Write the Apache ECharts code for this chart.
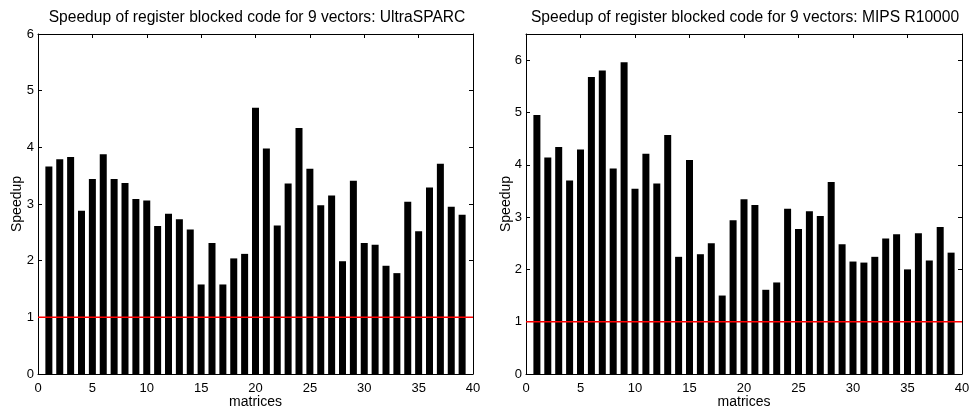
<!DOCTYPE html>
<html><head><meta charset="utf-8">
<script src="https://cdn.jsdelivr.net/npm/echarts@6/dist/echarts.min.js"></script>
<style>html,body{margin:0;padding:0;background:#fff}#c{width:971px;height:409px}</style>
</head><body><div id="c"></div>
<script>
const matrices = [1,2,3,4,5,6,7,8,9,10,11,12,13,14,15,16,17,18,19,20,21,22,23,24,25,26,27,28,29,30,31,32,33,34,35,36,37,38,39];
const speedupUltraSPARC = [3.66,3.79,3.83,2.88,3.44,3.88,3.44,3.37,3.09,3.06,2.61,2.83,2.73,2.55,1.58,2.31,1.58,2.04,2.12,4.70,3.98,2.62,3.36,4.34,3.62,2.98,3.15,1.99,3.41,2.31,2.28,1.91,1.78,3.04,2.52,3.29,3.71,2.95,2.81];
const speedupMIPS = [4.95,4.14,4.34,3.70,4.29,5.68,5.80,3.93,5.96,3.54,4.21,3.64,4.57,2.24,4.09,2.29,2.50,1.50,2.94,3.34,3.23,1.61,1.75,3.16,2.77,3.11,3.02,3.67,2.48,2.15,2.13,2.24,2.59,2.67,2.00,2.69,2.17,2.81,2.32];
const titles = ['Speedup of register blocked code for 9 vectors: UltraSPARC','Speedup of register blocked code for 9 vectors: MIPS R10000'];
const baseline = 1;

const FONT = 'Liberation Sans';
const chart = echarts.init(document.getElementById('c'), null, {renderer:'canvas'});
const grids = [
  {left:38, right:498, top:34, bottom:35, outerBoundsMode:'none', containLabel:false},
  {left:526, right:9, top:34, bottom:35, outerBoundsMode:'none', containLabel:false}
];
const yMax = [6, 6.5];
const yNameGap = [14, 13];
const xAxes = [], yAxes = [], series = [];
grids.forEach((g,i)=>{
  const tick = {show:true, inside:true, length:4, lineStyle:{color:'#000', width:1}};
  xAxes.push({gridIndex:i, type:'value', min:0, max:40, interval:5, position:'bottom',
    axisLine:{show:true, onZero:false, lineStyle:{color:'#000', width:1}}, axisTick:tick,
    axisLabel:{color:'#000', fontFamily:FONT, fontSize:13, margin:8},
    splitLine:{show:false}, name:'matrices', nameLocation:'middle', nameGap:21, nameMoveOverlap:false,
    nameTextStyle:{color:'#000', fontFamily:FONT, fontSize:14}});
  xAxes.push({gridIndex:i, type:'value', min:0, max:40, interval:5, position:'top',
    axisLine:{show:true, onZero:false, lineStyle:{color:'#000', width:1}}, axisTick:tick,
    axisLabel:{show:false}, splitLine:{show:false}});
  yAxes.push({gridIndex:i, type:'value', min:0, max:yMax[i], interval:1, position:'left',
    axisLine:{show:true, onZero:false, lineStyle:{color:'#000', width:1}}, axisTick:tick,
    axisLabel:{color:'#000', fontFamily:FONT, fontSize:13, margin:4, showMaxLabel: i===0,
      formatter:v=> (Number.isInteger(v)? String(v):'')},
    splitLine:{show:false}, name:'Speedup', nameLocation:'middle', nameGap:yNameGap[i], nameRotate:90,
    nameMoveOverlap:false,
    nameTextStyle:{color:'#000', fontFamily:FONT, fontSize:14}});
  yAxes.push({gridIndex:i, type:'value', min:0, max:yMax[i], interval:1, position:'right',
    axisLine:{show:true, onZero:false, lineStyle:{color:'#000', width:1}}, axisTick:tick,
    axisLabel:{show:false}, splitLine:{show:false}});
  const vals = i===0 ? speedupUltraSPARC : speedupMIPS;
  series.push({type:'bar', xAxisIndex:i*2, yAxisIndex:i*2, barWidth:7,
    itemStyle:{color:'#000'}, silent:true, z:2,
    data: matrices.map((m,k)=>[m, vals[k]])});
  series.push({type:'line', xAxisIndex:i*2, yAxisIndex:i*2, silent:true, z:5,
    symbol:'none', lineStyle:{color:'#ff0000', width:1.5},
    data:[[0, baseline],[40, baseline]]});
});
chart.setOption({
  animation:false,
  backgroundColor:'#fff',
  title: titles.map((t,i)=>({text:t, left: i===0 ? 252 : 740, top:5, textAlign:'center',
    textStyle:{color:'#000', fontFamily:FONT, fontSize:15.6, fontWeight:'normal'}})),
  grid: grids,
  xAxis: xAxes, yAxis: yAxes, series: series
});
</script></body></html>
